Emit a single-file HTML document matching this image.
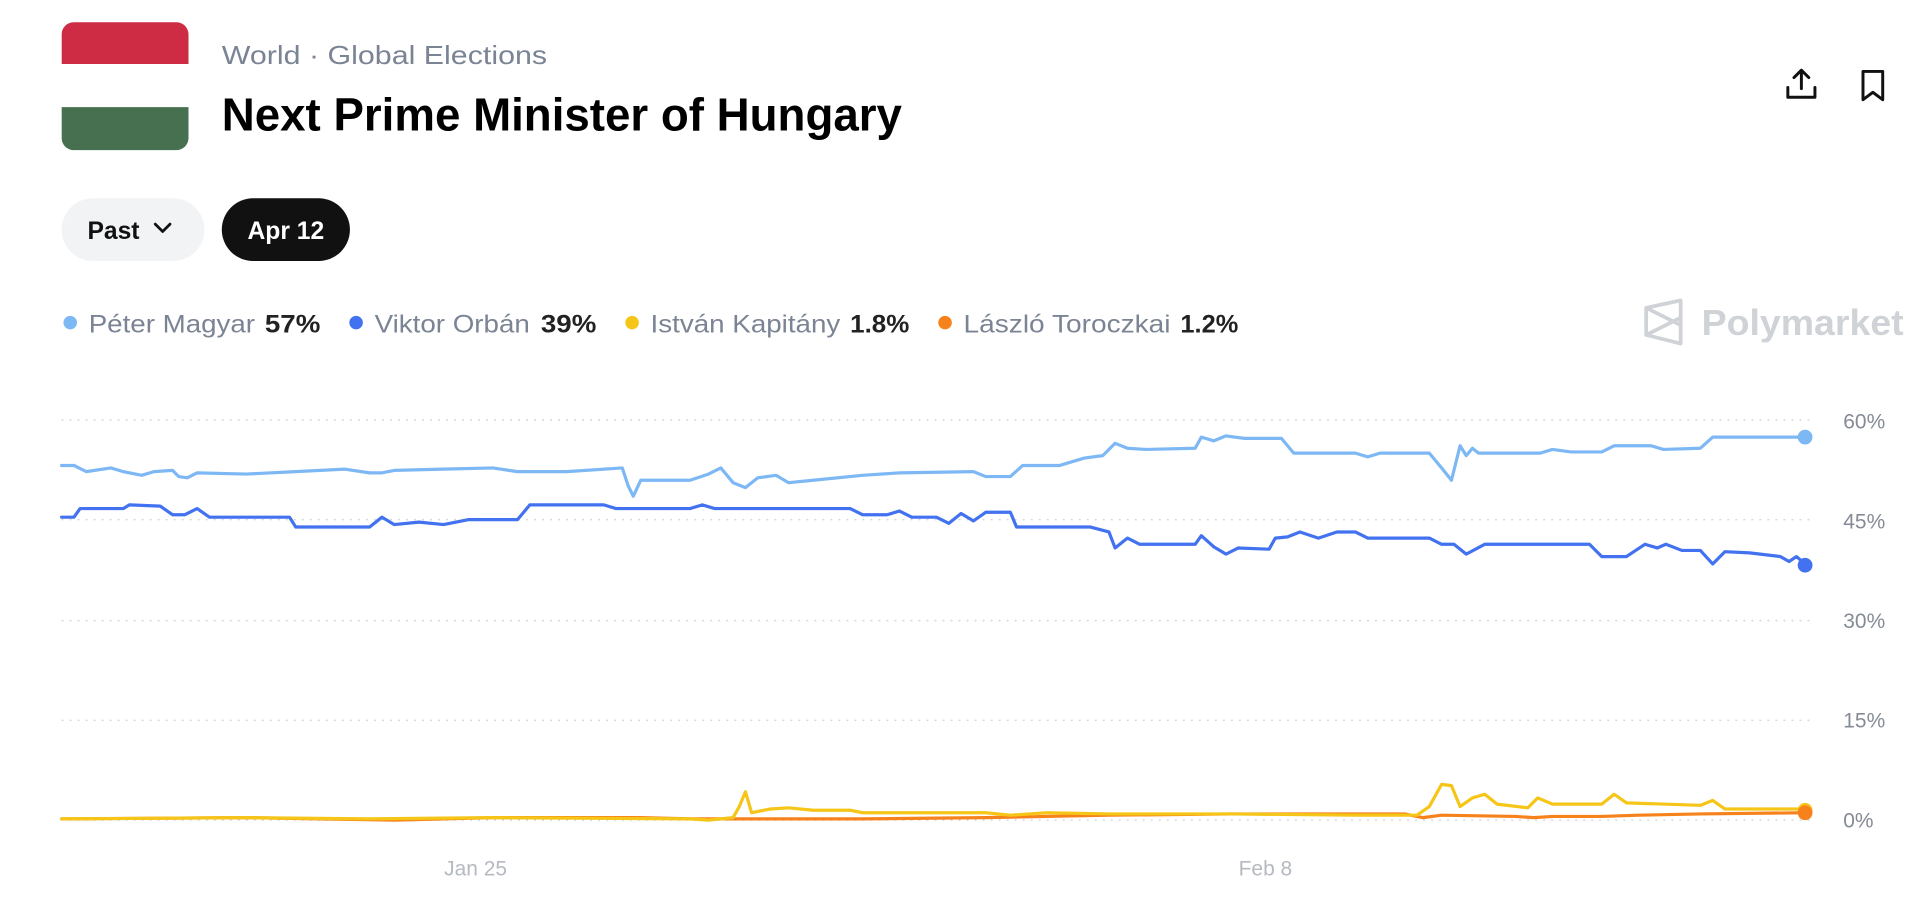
<!DOCTYPE html>
<html><head><meta charset="utf-8"><style>
html,body{margin:0;padding:0;background:#fff;width:1932px;height:910px;overflow:hidden}
svg{display:block}
text{font-family:"Liberation Sans",sans-serif}
</style></head><body>
<svg width="1932" height="910" viewBox="0 0 1568 739" preserveAspectRatio="none">
<defs><clipPath id="fc"><rect x="50" y="18" width="103" height="104" rx="10"/></clipPath></defs>
<g clip-path="url(#fc)">
<rect x="50" y="18" width="103" height="34" fill="#CE2C44"/>
<rect x="50" y="52" width="103" height="35" fill="#fff"/>
<rect x="50" y="87" width="103" height="35" fill="#477050"/>
</g>
<text x="180" y="52" font-size="21" fill="#7b8494" textLength="264" lengthAdjust="spacingAndGlyphs">World  ·  Global Elections</text>
<text x="180" y="106" font-size="38" font-weight="bold" fill="#000" textLength="552" lengthAdjust="spacingAndGlyphs">Next Prime Minister of Hungary</text>
<g fill="none" stroke="#111" stroke-width="2.4" stroke-linecap="round" stroke-linejoin="round">
<path d="M1451 71 v8 h22 v-8"/><path d="M1462 72 v-14"/><path d="M1456 63 l6-6 6 6"/>
<path d="M1512 58 h16 v23 l-8 -6 -8 6 z"/>
</g>
<rect x="50" y="161" width="116" height="51" rx="25.5" fill="#f2f3f5"/>
<text x="71" y="194" font-size="20" font-weight="bold" fill="#111">Past</text>
<path d="M126 182 l6 6 6-6" fill="none" stroke="#111" stroke-width="2.2" stroke-linecap="round" stroke-linejoin="round"/>
<rect x="180" y="161" width="104" height="51" rx="25.5" fill="#111"/>
<text x="232" y="194" font-size="20" font-weight="bold" fill="#fff" text-anchor="middle">Apr 12</text>
<g font-size="20">
<circle cx="57" cy="262" r="5.5" fill="#7DB8F5"/><text x="72" y="270" fill="#7b8494" textLength="135" lengthAdjust="spacingAndGlyphs">Péter Magyar</text><text x="215" y="270" fill="#222" font-weight="bold" textLength="45" lengthAdjust="spacingAndGlyphs">57%</text>
<circle cx="289" cy="262" r="5.5" fill="#4272F0"/><text x="304" y="270" fill="#7b8494" textLength="126" lengthAdjust="spacingAndGlyphs">Viktor Orbán</text><text x="439" y="270" fill="#222" font-weight="bold" textLength="45" lengthAdjust="spacingAndGlyphs">39%</text>
<circle cx="513" cy="262" r="5.5" fill="#F5C518"/><text x="528" y="270" fill="#7b8494" textLength="154" lengthAdjust="spacingAndGlyphs">István Kapitány</text><text x="690" y="270" fill="#222" font-weight="bold" textLength="48" lengthAdjust="spacingAndGlyphs">1.8%</text>
<circle cx="767" cy="262" r="5.5" fill="#F7821B"/><text x="782" y="270" fill="#7b8494" textLength="168" lengthAdjust="spacingAndGlyphs">László Toroczkai</text><text x="958" y="270" fill="#222" font-weight="bold" textLength="47" lengthAdjust="spacingAndGlyphs">1.2%</text>
</g>
<g fill="none" stroke="#cfd2d6" stroke-width="3" stroke-linejoin="round"><path d="M1336 250 L1364 244 V279 L1336 272 Z M1336 250 L1364 264 M1336 272 L1364 258"/></g>
<text x="1381" y="272" font-size="29" font-weight="bold" fill="#cfd2d6" textLength="164" lengthAdjust="spacingAndGlyphs">Polymarket</text>
<g stroke="#d4d6da" stroke-width="1.2" stroke-dasharray="1.5 5">
<line x1="50" x2="1470" y1="341" y2="341"/><line x1="50" x2="1470" y1="422" y2="422"/><line x1="50" x2="1470" y1="504" y2="504"/><line x1="50" x2="1470" y1="585" y2="585"/><line x1="50" x2="1470" y1="666" y2="666"/>
</g>
<g font-size="17" fill="#858b96">
<text x="1496" y="348">60%</text><text x="1496" y="429">45%</text><text x="1496" y="510">30%</text><text x="1496" y="591">15%</text><text x="1496" y="672">0%</text>
<text x="386" y="711" text-anchor="middle" fill="#b5b9c0">Jan 25</text><text x="1027" y="711" text-anchor="middle" fill="#b5b9c0">Feb 8</text>
</g>
<g fill="none" stroke-width="2.6" stroke-linejoin="round" stroke-linecap="round">
<polyline stroke="#F7821B" points="50,665 200,664 260,665 320,666 400,664 520,664 560,665 700,665 800,664 900,662 1000,661 1140,661 1155,664 1170,662 1230,663 1245,664 1260,663 1300,663 1330,662 1380,661 1465,660"/>
<polyline stroke="#F5C518" points="50,665 200,664 300,665 400,664 560,665 575,666 595,664 600,655 605,643 610,660 625,657 640,656 660,658 690,658 700,660 800,660 820,662 850,660 900,661 1000,661 1100,662 1150,662 1160,655 1170,637 1178,638 1185,655 1195,648 1205,645 1215,653 1240,656 1248,648 1260,653 1300,653 1310,645 1320,652 1380,654 1390,650 1400,657 1465,657"/>
<polyline stroke="#7DB8F5" points="50,378 60,378 70,383 90,380 100,383 115,386 125,383 140,382 145,387 152,388 160,384 200,385 240,383 280,381 300,384 310,384 320,382 360,381 400,380 420,383 460,383 505,380 510,395 514,403 520,390 560,390 575,385 585,380 595,392 605,396 615,388 630,386 640,392 660,390 700,386 730,384 790,383 800,387 820,387 830,378 860,378 880,372 895,370 905,360 915,364 930,365 970,364 975,355 985,358 995,354 1010,356 1040,356 1050,368 1060,368 1100,368 1110,371 1120,368 1160,368 1170,380 1178,390 1185,362 1190,370 1195,364 1200,368 1250,368 1260,365 1275,367 1300,367 1310,362 1340,362 1350,365 1380,364 1390,355 1465,355"/>
<polyline stroke="#4272F0" points="50,420 60,420 65,413 100,413 105,410 130,411 140,418 150,418 160,413 170,420 235,420 240,428 300,428 310,420 320,426 340,424 360,426 380,422 420,422 430,410 490,410 500,413 560,413 570,410 580,413 690,413 700,418 720,418 730,415 740,420 760,420 770,425 780,417 790,423 800,416 820,416 825,428 885,428 900,432 905,445 915,437 925,442 970,442 975,435 985,444 995,450 1005,445 1030,446 1035,437 1045,436 1055,432 1070,437 1085,432 1100,432 1110,437 1160,437 1170,442 1180,442 1190,450 1205,442 1240,442 1290,442 1300,452 1320,452 1335,442 1345,445 1352,442 1365,447 1380,447 1390,458 1400,448 1420,449 1445,452 1452,456 1458,452 1465,458"/>
</g>
<circle cx="1465" cy="355" r="6" fill="#7DB8F5"/>
<circle cx="1465" cy="459" r="6" fill="#4272F0"/>
<circle cx="1465" cy="658" r="6" fill="#F5C518"/>
<circle cx="1465" cy="660" r="6" fill="#F7821B"/>
</svg>
</body></html>
